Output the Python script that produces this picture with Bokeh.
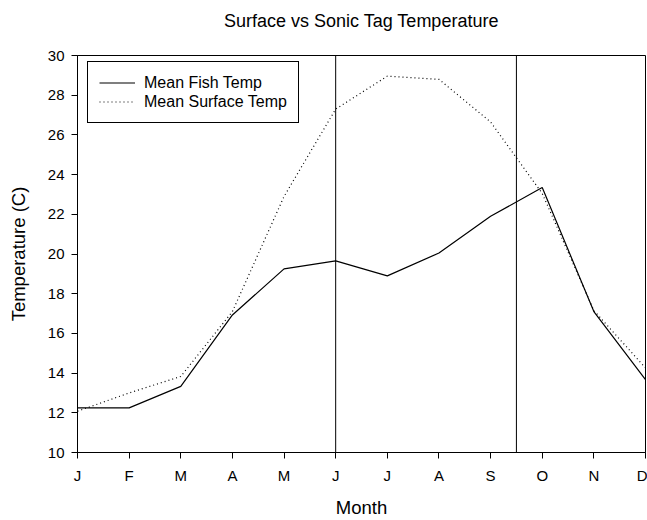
from bokeh.plotting import figure
from bokeh.models import Range1d, FixedTicker, Span, Legend, LegendItem
from bokeh.embed import file_html
from bokeh.resources import INLINE

months = ["J", "F", "M", "A", "M", "J", "J", "A", "S", "O", "N", "D"]
month_idx = list(range(12))
fish_temp = [12.25, 12.25, 13.33, 16.93, 19.25, 19.65, 18.9, 20.05, 21.9, 23.35, 17.1, 13.67]
surface_temp = [12.08, 13.0, 13.83, 17.1, 22.9, 27.3, 28.96, 28.8, 26.65, 23.05, 17.15, 14.26]
marker_lines = [5, 8.5]
y_ticks = [10, 12, 14, 16, 18, 20, 22, 24, 26, 28, 30]
title_text = "Surface vs Sonic Tag Temperature"

FONT = "Liberation Sans"

# a blank second title line lifts the visible title towards the top edge
p = figure(width=647, height=520, output_backend="svg", toolbar_location=None,
           x_range=Range1d(0, 11), y_range=Range1d(10, 30),
           min_border_left=77, min_border_right=2, min_border_top=55, min_border_bottom=67,
           title=title_text + "\n ")
p.background_fill_color = "white"
p.border_fill_color = "white"
p.xgrid.visible = False
p.ygrid.visible = False
p.outline_line_color = "black"
p.outline_line_width = 1
p.outline_line_alpha = 1

p.title.align = "center"
p.title.text_font = FONT
p.title.text_font_size = "18px"
p.title.text_font_style = "normal"
p.title.text_color = "black"
p.title.standoff = 9

for ax in (p.xaxis[0], p.yaxis[0]):
    ax.axis_line_color = "black"
    ax.major_tick_line_color = "black"
    ax.major_tick_out = 6
    ax.major_tick_in = 0
    ax.minor_tick_line_color = None
    ax.major_label_text_font = FONT
    ax.major_label_text_font_size = "15px"
    ax.major_label_text_color = "black"
    ax.axis_label_text_font = FONT
    ax.axis_label_text_font_size = "18.5px"
    ax.axis_label_text_font_style = "normal"
    ax.axis_label_text_color = "black"

p.xaxis.ticker = FixedTicker(ticks=month_idx)
p.xaxis.major_label_overrides = {i: m for i, m in zip(month_idx, months)}
p.xaxis.axis_label = "Month"
p.xaxis.major_label_standoff = 8
p.xaxis.axis_label_standoff = 10

p.yaxis.ticker = FixedTicker(ticks=y_ticks)
p.yaxis.axis_label = "Temperature (C)"
p.yaxis.major_label_standoff = 7
p.yaxis.axis_label_standoff = 16

for loc in marker_lines:
    p.add_layout(Span(location=loc, dimension="height", line_color="black", line_width=1))

r1 = p.line(month_idx, fish_temp, line_color="black", line_width=1.2)
r2 = p.line(month_idx, surface_temp, line_color="black", line_width=1.2, line_dash="1 3")

legend = Legend(items=[LegendItem(label="Mean Fish Temp", renderers=[r1]),
                       LegendItem(label="Mean Surface Temp", renderers=[r2])],
                location=(10, 329))
legend.border_line_color = "black"
legend.border_line_width = 1
legend.border_line_alpha = 1
legend.background_fill_color = "white"
legend.background_fill_alpha = 1
legend.label_text_font = FONT
legend.label_text_font_size = "16px"
legend.label_text_color = "black"
legend.padding = 11
legend.spacing = 0
legend.glyph_width = 36
legend.glyph_height = 19
legend.label_height = 19
legend.label_standoff = 9
legend.margin = 0
p.add_layout(legend)

open("out.html", "w").write(file_html(p, INLINE))
